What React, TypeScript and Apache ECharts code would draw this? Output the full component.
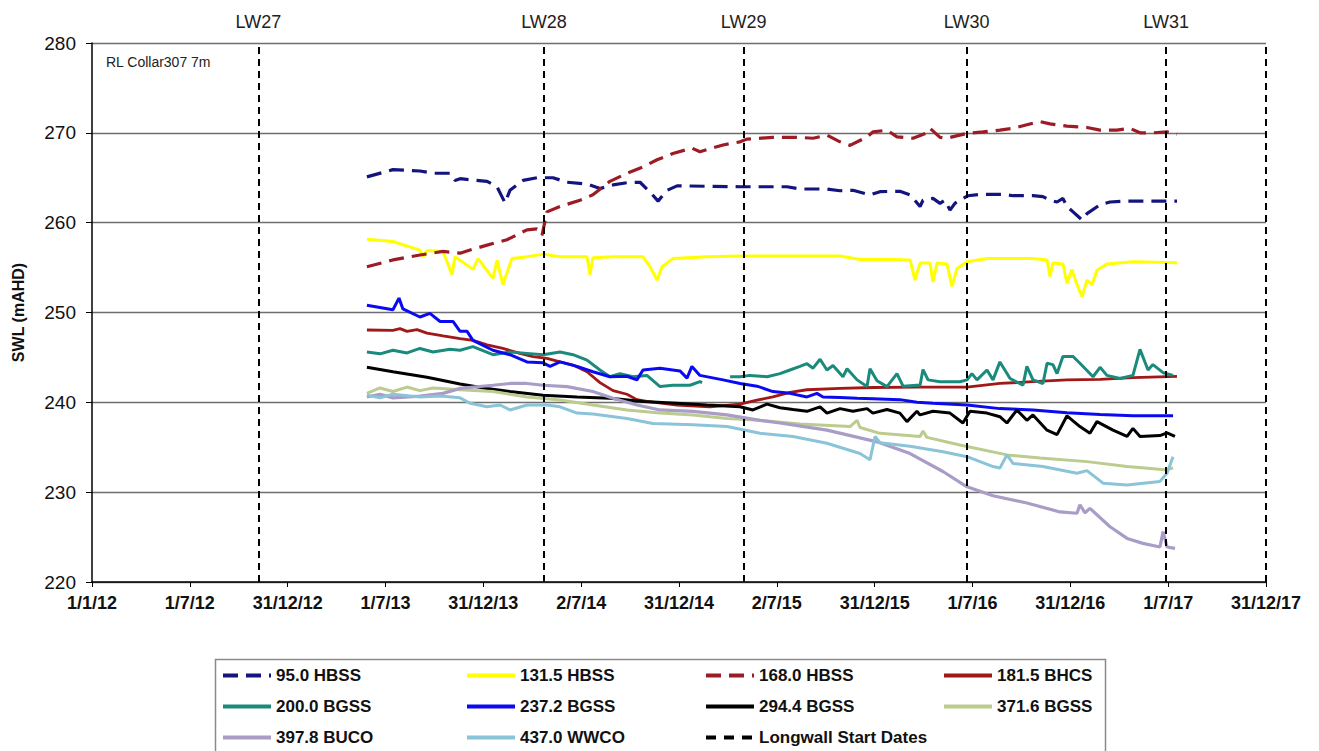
import React, { useEffect, useRef } from "react";
import * as echarts from "echarts";

// x values are decimal years
const xTickLabels = [
  "1/1/12", "1/7/12", "31/12/12", "1/7/13", "31/12/13", "2/7/14", "31/12/14",
  "2/7/15", "31/12/15", "1/7/16", "31/12/16", "1/7/17", "31/12/17",
];
const longwallNames = ["LW27", "LW28", "LW29", "LW30", "LW31"];
const longwallDates = [2012.853, 2014.305, 2015.327, 2016.472, 2017.494];

const hbss95 = [
  [2013.405, 265.1], [2013.538, 265.9], [2013.676, 265.75], [2013.743, 265.5], [2013.83, 265.5],
  [2013.855, 264.7], [2013.881, 264.9], [2013.947, 264.75], [2014.019, 264.6], [2014.07, 264.0],
  [2014.111, 262.2], [2014.136, 263.6], [2014.203, 264.7], [2014.274, 265.0], [2014.356, 265.0],
  [2014.428, 264.5], [2014.53, 264.3], [2014.596, 263.8], [2014.663, 264.2], [2014.734, 264.45],
  [2014.801, 264.5], [2014.852, 263.4], [2014.893, 262.4], [2014.939, 263.6], [2014.99, 264.1],
  [2015.312, 264.0], [2015.552, 264.0], [2015.618, 263.75], [2015.756, 263.75], [2015.823, 263.55],
  [2015.889, 263.6], [2015.976, 263.1], [2016.027, 263.45], [2016.129, 263.5], [2016.181, 263.1],
  [2016.232, 261.8], [2016.247, 262.5], [2016.298, 262.7], [2016.334, 262.15], [2016.359, 262.5],
  [2016.385, 261.4], [2016.41, 262.15], [2016.451, 262.7], [2016.477, 263.0], [2016.538, 263.15],
  [2016.656, 263.15], [2016.707, 263.0], [2016.809, 263.0], [2016.86, 262.9], [2016.896, 262.5],
  [2016.932, 262.3], [2016.962, 262.7], [2016.983, 261.8], [2017.014, 261.2], [2017.06, 260.3],
  [2017.085, 261.0], [2017.152, 262.0], [2017.203, 262.3], [2017.29, 262.4], [2017.545, 262.4],
];

const hbss131 = [
  [2013.405, 258.15], [2013.538, 257.9], [2013.676, 256.95], [2013.692, 256.2], [2013.712, 256.9],
  [2013.794, 256.8], [2013.84, 254.2], [2013.855, 256.2], [2013.947, 254.8], [2013.973, 256.0],
  [2014.049, 253.8], [2014.07, 255.8], [2014.1, 253.1], [2014.146, 256.0], [2014.223, 256.2],
  [2014.305, 256.5], [2014.392, 256.2], [2014.53, 256.2], [2014.545, 254.2], [2014.56, 256.1],
  [2014.663, 256.2], [2014.816, 256.2], [2014.852, 255.1], [2014.888, 253.6], [2014.913, 255.1],
  [2014.969, 256.0], [2015.143, 256.2], [2015.312, 256.3], [2015.823, 256.3], [2015.925, 255.9],
  [2016.094, 255.9], [2016.181, 255.85], [2016.206, 253.6], [2016.232, 255.5], [2016.283, 255.5],
  [2016.298, 253.4], [2016.319, 255.5], [2016.37, 255.4], [2016.395, 252.9], [2016.421, 254.9],
  [2016.472, 255.65], [2016.574, 256.0], [2016.809, 256.0], [2016.881, 255.85], [2016.896, 254.0],
  [2016.911, 255.5], [2016.962, 255.4], [2016.983, 253.25], [2017.008, 254.8], [2017.034, 253.1],
  [2017.06, 251.75], [2017.085, 253.6], [2017.111, 253.1], [2017.136, 254.7], [2017.187, 255.4],
  [2017.32, 255.65], [2017.545, 255.55],
];

const hbss168 = [
  [2013.405, 255.1], [2013.538, 255.85], [2013.676, 256.4], [2013.794, 256.8], [2013.881, 256.6],
  [2013.932, 256.95], [2014.019, 257.5], [2014.121, 258.1], [2014.223, 259.2], [2014.274, 259.3],
  [2014.3, 258.6], [2014.325, 261.2], [2014.392, 261.8], [2014.494, 262.5], [2014.56, 263.1],
  [2014.647, 264.6], [2014.734, 265.5], [2014.816, 266.2], [2014.888, 267.0], [2014.969, 267.7],
  [2015.066, 268.3], [2015.107, 267.9], [2015.225, 268.65], [2015.312, 269.0], [2015.347, 269.3],
  [2015.48, 269.5], [2015.603, 269.5], [2015.685, 269.4], [2015.756, 269.75], [2015.823, 269.0],
  [2015.874, 268.6], [2015.961, 269.55], [2015.991, 270.1], [2016.063, 270.3], [2016.114, 269.55],
  [2016.196, 269.4], [2016.267, 270.0], [2016.283, 270.5], [2016.334, 269.5], [2016.37, 269.4],
  [2016.472, 269.95], [2016.554, 270.1], [2016.64, 270.3], [2016.707, 270.5], [2016.778, 270.9],
  [2016.845, 271.25], [2016.896, 271.0], [2016.983, 270.75], [2017.085, 270.6], [2017.152, 270.3],
  [2017.238, 270.3], [2017.305, 270.5], [2017.356, 270.0], [2017.422, 270.0], [2017.494, 270.1],
  [2017.545, 269.85],
];

const bhcs181 = [
  [2013.405, 248.05], [2013.538, 248.0], [2013.574, 248.2], [2013.61, 247.9], [2013.661, 248.1],
  [2013.712, 247.7], [2013.794, 247.4], [2013.881, 247.1], [2013.947, 246.9], [2014.019, 246.4],
  [2014.1, 246.0], [2014.187, 245.45], [2014.254, 245.1], [2014.325, 244.9], [2014.392, 244.5],
  [2014.458, 244.15], [2014.53, 243.4], [2014.596, 242.2], [2014.663, 241.3], [2014.734, 240.9],
  [2014.785, 240.3], [2014.836, 240.1], [2014.99, 239.7], [2015.158, 239.5], [2015.312, 239.8],
  [2015.399, 240.25], [2015.48, 240.6], [2015.567, 241.1], [2015.654, 241.4], [2015.823, 241.55],
  [2015.991, 241.65], [2016.216, 241.7], [2016.472, 241.7], [2016.64, 242.1], [2016.809, 242.3],
  [2016.983, 242.5], [2017.152, 242.55], [2017.32, 242.75], [2017.545, 242.9],
];

const bgss200 = [
  [2013.405, 245.6], [2013.472, 245.4], [2013.538, 245.8], [2013.61, 245.5], [2013.676, 246.0],
  [2013.743, 245.6], [2013.83, 245.9], [2013.881, 245.8], [2013.947, 246.2], [2014.049, 245.3],
  [2014.136, 245.6], [2014.223, 245.45], [2014.305, 245.3], [2014.392, 245.6], [2014.458, 245.3],
  [2014.53, 244.7], [2014.596, 243.6], [2014.647, 242.85], [2014.698, 243.2], [2014.765, 242.85],
  [2014.836, 243.0], [2014.903, 241.75], [2014.969, 241.9], [2015.056, 241.9], [2015.107, 242.3],
  [2015.118, 242.2], [2015.2, "-"], [2015.261, 242.85], [2015.312, 242.85], [2015.363, 243.0],
  [2015.45, 242.85], [2015.516, 243.2], [2015.567, 243.6], [2015.618, 244.0], [2015.654, 244.3],
  [2015.685, 243.8], [2015.721, 244.8], [2015.756, 243.6], [2015.787, 244.1], [2015.838, 242.85],
  [2015.859, 243.75], [2015.91, 242.5], [2015.961, 241.75], [2015.976, 243.75], [2016.012, 242.4],
  [2016.063, 241.75], [2016.114, 243.2], [2016.145, 241.8], [2016.216, 241.9], [2016.232, 241.9],
  [2016.247, 243.65], [2016.273, 242.5], [2016.334, 242.3], [2016.436, 242.3], [2016.472, 242.5],
  [2016.497, 243.2], [2016.523, 242.5], [2016.574, 243.6], [2016.605, 242.5], [2016.64, 244.5],
  [2016.692, 242.65], [2016.758, 241.9], [2016.778, 244.0], [2016.809, 242.5], [2016.86, 242.1],
  [2016.881, 244.35], [2016.911, 244.2], [2016.932, 243.2], [2016.962, 245.1], [2017.014, 245.1],
  [2017.049, 244.35], [2017.116, 242.85], [2017.152, 243.9], [2017.187, 243.0], [2017.254, 242.65],
  [2017.32, 243.0], [2017.356, 245.9], [2017.397, 243.6], [2017.422, 244.2], [2017.474, 243.3],
  [2017.525, 243.0],
];

const bgss237 = [
  [2013.405, 250.8], [2013.538, 250.3], [2013.569, 251.6], [2013.589, 250.4], [2013.676, 249.5],
  [2013.727, 249.9], [2013.779, 249.0], [2013.845, 249.0], [2013.881, 247.9], [2013.917, 247.9],
  [2013.947, 246.9], [2014.049, 245.8], [2014.136, 245.3], [2014.223, 244.5], [2014.305, 244.4],
  [2014.341, 244.0], [2014.392, 244.5], [2014.479, 244.0], [2014.56, 243.4], [2014.647, 242.85],
  [2014.734, 242.9], [2014.785, 242.5], [2014.816, 243.6], [2014.903, 243.8], [2015.005, 243.5],
  [2015.041, 242.7], [2015.066, 244.0], [2015.107, 243.0], [2015.225, 242.5], [2015.312, 242.1],
  [2015.399, 241.8], [2015.48, 241.2], [2015.567, 241.0], [2015.654, 240.6], [2015.705, 241.0],
  [2015.736, 240.6], [2015.823, 240.55], [2015.91, 240.45], [2015.991, 240.4], [2016.129, 240.3],
  [2016.216, 240.0], [2016.298, 239.9], [2016.472, 239.7], [2016.64, 239.3], [2016.809, 239.15],
  [2016.983, 238.85], [2017.152, 238.65], [2017.32, 238.5], [2017.525, 238.5],
];

const bgss294 = [
  [2013.405, 243.9], [2013.538, 243.4], [2013.712, 242.8], [2013.881, 242.05], [2014.019, 241.55],
  [2014.136, 241.2], [2014.305, 240.8], [2014.479, 240.6], [2014.647, 240.45], [2014.816, 240.1],
  [2014.99, 239.9], [2015.143, 239.7], [2015.312, 239.5], [2015.378, 239.15], [2015.45, 239.8],
  [2015.516, 239.4], [2015.583, 239.2], [2015.654, 239.0], [2015.721, 239.5], [2015.756, 238.8],
  [2015.823, 239.3], [2015.889, 239.0], [2015.961, 239.3], [2015.991, 238.8], [2016.063, 239.2],
  [2016.129, 238.8], [2016.165, 237.85], [2016.216, 239.0], [2016.232, 238.6], [2016.298, 239.0],
  [2016.385, 238.8], [2016.451, 237.7], [2016.487, 239.0], [2016.574, 238.8], [2016.64, 238.4],
  [2016.676, 237.7], [2016.727, 239.15], [2016.778, 238.0], [2016.809, 238.6], [2016.881, 236.9],
  [2016.932, 236.4], [2016.983, 238.5], [2017.049, 237.3], [2017.1, 236.55], [2017.136, 237.85],
  [2017.218, 236.9], [2017.29, 236.2], [2017.32, 237.1], [2017.356, 236.2], [2017.458, 236.3],
  [2017.494, 236.6], [2017.535, 236.2],
];

const bgss371 = [
  [2013.405, 241.0], [2013.472, 241.6], [2013.538, 241.2], [2013.61, 241.7], [2013.676, 241.3],
  [2013.743, 241.6], [2013.881, 241.4], [2014.049, 241.2], [2014.223, 240.6], [2014.392, 240.25],
  [2014.56, 239.7], [2014.734, 239.15], [2014.903, 238.8], [2015.072, 238.6], [2015.245, 238.2],
  [2015.414, 238.0], [2015.618, 237.6], [2015.874, 237.3], [2015.91, 238.0], [2015.925, 237.2],
  [2016.027, 236.55], [2016.232, 236.2], [2016.247, 236.8], [2016.267, 236.1], [2016.436, 235.25],
  [2016.676, 234.15], [2016.845, 233.8], [2017.085, 233.4], [2017.29, 232.85], [2017.484, 232.5],
  [2017.525, 232.7],
];

const buco397 = [
  [2013.405, 240.6], [2013.472, 240.9], [2013.538, 240.5], [2013.676, 240.7], [2013.794, 241.0],
  [2013.881, 241.55], [2014.049, 241.9], [2014.136, 242.1], [2014.223, 242.1], [2014.305, 241.9],
  [2014.428, 241.75], [2014.56, 241.2], [2014.663, 240.45], [2014.785, 239.7], [2014.903, 239.15],
  [2015.072, 239.0], [2015.245, 238.6], [2015.414, 238.0], [2015.516, 237.7], [2015.756, 236.9],
  [2016.012, 235.6], [2016.181, 234.3], [2016.349, 232.3], [2016.472, 230.6], [2016.605, 229.6],
  [2016.778, 228.8], [2016.947, 227.8], [2017.034, 227.65], [2017.049, 228.6], [2017.075, 227.7],
  [2017.1, 228.2], [2017.203, 226.15], [2017.29, 224.85], [2017.371, 224.3], [2017.458, 223.9],
  [2017.474, 225.6], [2017.494, 223.9], [2017.535, 223.75],
];

const wwco437 = [
  [2013.405, 240.8], [2013.472, 240.5], [2013.538, 240.9], [2013.676, 240.6], [2013.779, 240.7],
  [2013.881, 240.5], [2013.932, 239.9], [2014.019, 239.5], [2014.085, 239.7], [2014.136, 239.15],
  [2014.223, 239.7], [2014.325, 239.7], [2014.392, 239.5], [2014.479, 238.8], [2014.56, 238.7],
  [2014.734, 238.2], [2014.867, 237.65], [2015.072, 237.5], [2015.245, 237.3], [2015.414, 236.55],
  [2015.583, 236.2], [2015.756, 235.45], [2015.925, 234.3], [2015.976, 233.6], [2016.002, 236.2],
  [2016.027, 235.5], [2016.181, 235.1], [2016.349, 234.5], [2016.472, 233.95], [2016.605, 232.85],
  [2016.64, 232.7], [2016.676, 234.15], [2016.707, 233.2], [2016.86, 232.85], [2017.034, 232.1],
  [2017.085, 232.4], [2017.167, 231.0], [2017.29, 230.8], [2017.458, 231.2], [2017.494, 232.1],
  [2017.525, 233.95],
];

const FONT = "'Liberation Sans', Arial, sans-serif";

const seriesDefs = [
  { name: "95.0 HBSS", data: hbss95, color: "#14147e", dash: [15, 8], width: 3.2 },
  { name: "131.5 HBSS", data: hbss131, color: "#ffff00", dash: null, width: 3 },
  { name: "168.0 HBSS", data: hbss168, color: "#9c1c26", dash: [15, 8], width: 3.2 },
  { name: "181.5 BHCS", data: bhcs181, color: "#a01818", dash: null, width: 2.8 },
  { name: "200.0 BGSS", data: bgss200, color: "#1a8a7c", dash: null, width: 3 },
  { name: "237.2 BGSS", data: bgss237, color: "#0a0af2", dash: null, width: 3 },
  { name: "294.4 BGSS", data: bgss294, color: "#000000", dash: null, width: 3 },
  { name: "371.6 BGSS", data: bgss371, color: "#bccb8e", dash: null, width: 3 },
  { name: "397.8 BUCO", data: buco397, color: "#a99cc6", dash: null, width: 3.2 },
  { name: "437.0 WWCO", data: wwco437, color: "#8ac4d8", dash: null, width: 3 },
];

const legendColumns = [
  { left: 221, names: ["95.0 HBSS", "200.0 BGSS", "397.8 BUCO"] },
  { left: 465, names: ["131.5 HBSS", "237.2 BGSS", "437.0 WWCO"] },
  { left: 704, names: ["168.0 HBSS", "294.4 BGSS", "Longwall Start Dates"] },
  { left: 942, names: ["181.5 BHCS", "371.6 BGSS"] },
];

export default function App() {
  const ref = useRef<HTMLDivElement>(null);

  useEffect(() => {
    if (!ref.current) return;
    const chart = echarts.init(ref.current, null, { renderer: "svg" });

    const series: any[] = seriesDefs.map((s) => ({
      name: s.name,
      type: "line",
      data: s.data,
      symbol: "none",
      showSymbol: false,
      connectNulls: false,
      color: s.color,
      lineStyle: { color: s.color, width: s.width, type: s.dash ? s.dash : "solid" },
      silent: true,
    }));

    series.push({
      name: "Longwall Start Dates",
      type: "line",
      data: [],
      symbol: "none",
      color: "#000",
      lineStyle: { color: "#000", width: 3, type: [10, 8] },
      markLine: {
        silent: true,
        symbol: "none",
        animation: false,
        lineStyle: { color: "#000", width: 2, type: [7, 5] },
        label: {
          show: true,
          position: "end",
          formatter: "{b}",
          color: "#222",
          fontSize: 18,
          fontFamily: FONT,
          distance: 12,
        },
        data: [
          ...longwallDates.map((d, i) => ({ xAxis: d, name: longwallNames[i] })),
          { xAxis: 2018, name: "", label: { show: false } },
        ],
      },
    });

    const option: any = {
      animation: false,
      backgroundColor: "#ffffff",
      textStyle: { fontFamily: FONT },
      grid: { left: 92, right: 53, top: 43, bottom: 169, containLabel: false },
      xAxis: {
        type: "value",
        min: 2012,
        max: 2018,
        interval: 0.5,
        axisLine: { show: true, lineStyle: { color: "#000", width: 1.5 } },
        axisTick: { show: true, inside: false, length: 5, lineStyle: { color: "#000" } },
        splitLine: { show: false },
        axisLabel: {
          margin: 12,
          color: "#111",
          fontSize: 18,
          fontWeight: "bold",
          fontFamily: FONT,
          showMinLabel: true,
          showMaxLabel: true,
          formatter: (v: number) => xTickLabels[Math.round((v - 2012) / 0.5)] ?? "",
        },
      },
      yAxis: {
        type: "value",
        min: 220,
        max: 280,
        interval: 10,
        name: "SWL (mAHD)",
        nameLocation: "middle",
        nameRotate: 90,
        nameGap: 66,
        nameTextStyle: { fontSize: 16, fontWeight: "bold", color: "#111", fontFamily: FONT },
        axisLine: { show: true, lineStyle: { color: "#000", width: 1.5 } },
        axisTick: { show: true, inside: false, length: 6, lineStyle: { color: "#000" } },
        splitLine: { show: true, lineStyle: { color: "#6e6e6e", width: 1.3 } },
        axisLabel: { margin: 16, color: "#111", fontSize: 19, fontFamily: FONT },
      },
      legend: legendColumns.map((c) => ({
        orient: "vertical",
        left: c.left,
        top: 667,
        height: 120,
        itemWidth: 48,
        itemHeight: 16,
        itemGap: 14,
        padding: 0,
        selectedMode: false,
        itemStyle: { opacity: 0 },
        lineStyle: { width: 4 },
        data: c.names,
        textStyle: {
          fontSize: 17,
          lineHeight: 16,
          fontWeight: "bold",
          color: "#111",
          fontFamily: FONT,
        },
      })),
      graphic: [
        {
          type: "text",
          left: 106,
          top: 55,
          style: { text: "RL Collar307 7m", fontSize: 14, fill: "#222", fontFamily: FONT },
        },
        {
          type: "rect",
          left: 213,
          top: 657,
          shape: { width: 890, height: 110 },
          style: { fill: "none", stroke: "#8a8a8a", lineWidth: 1.5 },
        },
      ],
      series,
    };

    chart.setOption(option);
    return () => chart.dispose();
  }, []);

  return (
    <div
      ref={ref}
      style={{ position: "fixed", left: 0, top: 0, width: 1319, height: 751, background: "#fff" }}
    />
  );
}
